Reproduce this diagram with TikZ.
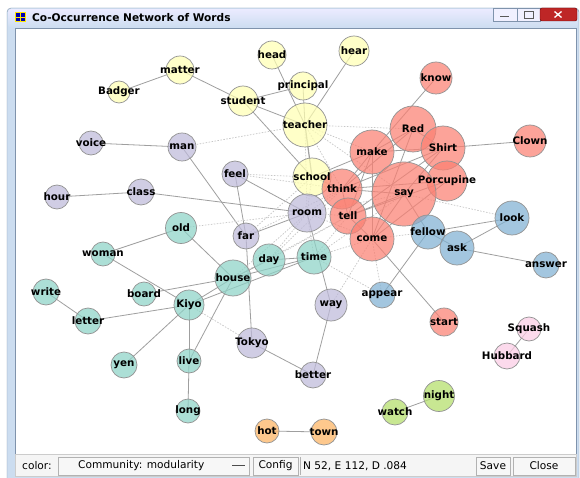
\documentclass[tikz,border=0pt]{standalone}
\usepackage{fontspec}
\setmainfont{DejaVu Sans}
\definecolor{setyel}{HTML}{FFFFB3}
\definecolor{setred}{HTML}{FB8072}
\definecolor{setlav}{HTML}{BEBADA}
\definecolor{setteal}{HTML}{8DD3C7}
\definecolor{setblue}{HTML}{80B1D3}
\definecolor{setorg}{HTML}{FDB462}
\definecolor{setgrn}{HTML}{B3DE69}
\definecolor{setpink}{HTML}{FCCDE5}
\definecolor{winblue}{HTML}{CCDDF0}
\definecolor{winline}{HTML}{7F93AC}
\pgfdeclarelayer{chrome}
\pgfdeclarelayer{edges}
\pgfsetlayers{chrome,edges,main}
\begin{document}
\begin{tikzpicture}[x=1pt, y=-1pt,
  wnode/.style={circle, draw=gray!85, line width=0.7pt, fill opacity=0.72, inner sep=0pt, minimum size=#1},
  ycom/.style={wnode=#1, fill=setyel}, rcom/.style={wnode=#1, fill=setred},
  pcom/.style={wnode=#1, fill=setlav}, tcom/.style={wnode=#1, fill=setteal},
  bcom/.style={wnode=#1, fill=setblue}, ocom/.style={wnode=#1, fill=setorg},
  gcom/.style={wnode=#1, fill=setgrn}, kcom/.style={wnode=#1, fill=setpink},
  wlbl/.style={font=\bfseries\fontsize{10.3}{12}\selectfont, inner sep=0pt},
  edge/.style={draw=gray!75, line width=0.8pt},
  xedge/.style={draw=gray!45, line width=0.7pt, dash pattern=on 1.5pt off 1.5pt},
  btn/.style={draw=gray!60, fill=gray!6},
  bartxt/.style={font=\fontsize{10.6}{12}\selectfont, inner sep=0pt}]
  \useasboundingbox (0,0) rectangle (580,478);
  \begin{pgfonlayer}{chrome}
  % window frame
  \fill[white] (0,0) rectangle (580,478);
  \filldraw[fill=winblue, draw=winline, rounded corners=4pt] (7,8) rectangle (579,484);
  \shade[top color=blue!8, bottom color=winblue, rounded corners=3pt] (8,9) rectangle (578,28);
  \fill[yellow!90!orange] (15,12) rectangle (26,22);
  \foreach \i/\j in {15.8/12.8, 21.2/12.8, 15.8/17.6, 21.2/17.6}
    \fill[blue!70!black] (\i,\j) rectangle ++(4,3.8);
  \filldraw[fill=blue!6, draw=winline] (493,8) rectangle (517,21);
  \filldraw[fill=blue!6, draw=winline] (517,8) rectangle (540,21);
  \filldraw[fill=red!70!black!85, draw=red!40!black, rounded corners=2pt] (540,8) rectangle (577,21);
  \draw[gray!70!black, line width=1.2pt] (500,16.5) -- (509,16.5);
  \draw[gray!70!black, line width=0.8pt] (524,11.5) rectangle (533,18);
  \draw[white, line width=1.3pt] (554.5,11.5) -- (561.5,17.5) (554.5,17.5) -- (561.5,11.5);
  \filldraw[fill=white, draw=winline] (15,28) rectangle (576,454);
  \filldraw[fill=gray!8, draw=gray!40] (15,454) rectangle (576,476.5);
  \filldraw[btn] (58,457) rectangle (249,475);
  \draw[gray!60!black, line width=1pt] (232,465.5) -- (245,465.5);
  \filldraw[btn] (253,457) rectangle (298,475);
  \draw[gray!60] (300,457) -- (300,475);
  \filldraw[btn] (476,457) rectangle (510,475);
  \filldraw[btn] (513,457) rectangle (575,475);
  \end{pgfonlayer}
  \node[font=\bfseries\fontsize{10.6}{12}\selectfont, anchor=west, inner sep=0pt] (title) at (32,17.5) {Co-Occurrence Network of Words};

  % toolbar
  \node[bartxt, anchor=west] (colortxt) at (22,466) {color:};
  \node[bartxt, anchor=west] (commtxt) at (78,466) {Community: modularity};
  \node[bartxt] (config) at (275.5,466) {Config};
  \node[bartxt, anchor=west] (stats) at (303,466) {N 52, E 112, D .084};
  \node[bartxt] (save) at (493,466) {Save};
  \node[bartxt] (close) at (544,466) {Close};

  % nodes
  \node[ycom=28pt] (head) at (272,55) {};
  \node[ycom=30pt] (hear) at (354,51) {};
  \node[ycom=28pt] (matter) at (180,70) {};
  \node[ycom=22pt] (Badger) at (119,92) {};
  \node[ycom=30pt] (student) at (243,101) {};
  \node[ycom=28pt] (principal) at (303,86) {};
  \node[ycom=44pt] (teacher) at (305,125) {};
  \node[ycom=38pt] (school) at (312,177) {};
  \node[rcom=32pt] (know) at (436,78) {};
  \node[rcom=46pt] (Red) at (413,129) {};
  \node[rcom=44pt] (Shirt) at (443,148) {};
  \node[rcom=32pt] (Clown) at (530,141) {};
  \node[rcom=44pt] (make) at (372,152) {};
  \node[rcom=40pt] (Porcupine) at (447,181) {};
  \node[rcom=40pt] (think) at (342,189) {};
  \node[rcom=64pt] (say) at (404,194) {};
  \node[rcom=36pt] (tell) at (348,216) {};
  \node[rcom=44pt] (come) at (372,239) {};
  \node[rcom=28pt] (start) at (444,322) {};
  \node[pcom=24pt] (voice) at (91,143) {};
  \node[pcom=28pt] (man) at (182,147) {};
  \node[pcom=26pt] (feel) at (235,174) {};
  \node[pcom=24pt] (hour) at (57,197) {};
  \node[pcom=26pt] (class) at (141,192) {};
  \node[pcom=38pt] (room) at (307,213) {};
  \node[pcom=26pt] (far) at (246,236) {};
  \node[pcom=32pt] (way) at (331,305) {};
  \node[pcom=30pt] (Tokyo) at (252,343) {};
  \node[pcom=26pt] (better) at (313,375) {};
  \node[tcom=31pt] (old) at (181,228) {};
  \node[tcom=24pt] (woman) at (103,254) {};
  \node[tcom=32pt] (day) at (269,260) {};
  \node[tcom=34pt] (time) at (314,257) {};
  \node[tcom=36pt] (house) at (233,278) {};
  \node[tcom=26pt] (write) at (46,292) {};
  \node[tcom=24pt] (board) at (144,294) {};
  \node[tcom=30pt] (Kiyo) at (189,305) {};
  \node[tcom=26pt] (letter) at (88,321) {};
  \node[tcom=26pt] (yen) at (124,365) {};
  \node[tcom=24pt] (live) at (189,361) {};
  \node[tcom=24pt] (long) at (188,411) {};
  \node[bcom=34pt] (fellow) at (428,232) {};
  \node[bcom=34pt] (look) at (512,218) {};
  \node[bcom=34pt] (ask) at (457,248) {};
  \node[bcom=26pt] (answer) at (546,265) {};
  \node[bcom=26pt] (appear) at (382,295) {};
  \node[ocom=24pt] (hot) at (267,431) {};
  \node[ocom=26pt] (town) at (324,432) {};
  \node[gcom=31pt] (night) at (439,396) {};
  \node[gcom=26pt] (watch) at (395,412) {};
  \node[kcom=24pt] (Squash) at (529,329) {};
  \node[kcom=26pt] (Hubbard) at (507,356) {};

  % word labels on top of every circle
  \foreach \w in {head, hear, matter, Badger, student, principal, teacher, school,
    know, Red, Shirt, Clown, make, Porcupine, think, say, tell, come, start,
    voice, man, feel, hour, class, room, far, way, Tokyo, better,
    old, woman, day, time, house, write, board, Kiyo, letter, yen, live, long,
    fellow, look, ask, answer, appear, hot, town, night, watch, Squash, Hubbard}
    \node[wlbl] (\w-l) at (\w) {\w};

  \begin{pgfonlayer}{edges}
    % edges inside communities
    \draw[edge] (matter.center)--(Badger.center); \draw[edge] (matter.center)--(student.center);
    \draw[edge] (student.center)--(principal.center); \draw[edge] (student.center)--(teacher.center);
    \draw[edge] (student.center)--(school.center); \draw[edge] (head.center)--(teacher.center);
    \draw[edge] (principal.center)--(teacher.center); \draw[edge] (hear.center)--(teacher.center);
    \draw[edge, line width=1.2pt] (teacher.center)--(school.center);
    \draw[edge] (know.center)--(make.center); \draw[edge] (Red.center)--(Shirt.center);
    \draw[edge] (Red.center)--(make.center); \draw[edge] (make.center)--(Shirt.center);
    \draw[edge] (Shirt.center)--(Clown.center); \draw[edge] (Red.center)--(come.center);
    \draw[edge] (make.center)--(come.center); \draw[edge] (make.center)--(think.center);
    \draw[edge] (make.center)--(tell.center); \draw[edge] (Shirt.center)--(think.center);
    \draw[edge] (Shirt.center)--(tell.center); \draw[edge] (Porcupine.center)--(think.center);
    \draw[edge] (Porcupine.center)--(tell.center); \draw[edge] (Porcupine.center)--(come.center);
    \draw[edge] (say.center)--(think.center); \draw[edge] (say.center)--(tell.center);
    \draw[edge] (say.center)--(come.center); \draw[edge] (think.center)--(tell.center);
    \draw[edge] (tell.center)--(come.center); \draw[edge] (come.center)--(start.center);
    \draw[edge] (Shirt.center)--(say.center); \draw[edge] (Red.center)--(think.center);
    \draw[edge] (school.center)--(make.center); \draw[edge] (school.center)--(think.center);
    \draw[edge] (fellow.center)--(appear.center); \draw[edge] (fellow.center)--(look.center);
    \draw[edge] (ask.center)--(look.center); \draw[edge] (ask.center)--(answer.center);
    \draw[edge] (fellow.center)--(ask.center); \draw[edge] (say.center)--(fellow.center);
    \draw[edge] (voice.center)--(man.center); \draw[edge] (man.center)--(far.center);
    \draw[edge] (hour.center)--(class.center); \draw[edge] (class.center)--(room.center);
    \draw[edge] (feel.center)--(far.center); \draw[edge] (feel.center)--(room.center);
    \draw[edge] (far.center)--(room.center); \draw[edge] (far.center)--(Tokyo.center);
    \draw[edge] (Tokyo.center)--(better.center); \draw[edge] (way.center)--(better.center);
    \draw[edge] (room.center)--(way.center);
    \draw[edge] (woman.center)--(old.center); \draw[edge] (woman.center)--(Kiyo.center);
    \draw[edge] (old.center)--(house.center); \draw[edge] (write.center)--(letter.center);
    \draw[edge] (letter.center)--(Kiyo.center); \draw[edge] (board.center)--(house.center);
    \draw[edge] (Kiyo.center)--(house.center); \draw[edge] (Kiyo.center)--(yen.center);
    \draw[edge] (Kiyo.center)--(live.center); \draw[edge] (live.center)--(long.center);
    \draw[edge] (house.center)--(live.center); \draw[edge] (house.center)--(day.center);
    \draw[edge] (house.center)--(time.center); \draw[edge] (day.center)--(time.center);
    \draw[edge] (Kiyo.center)--(time.center);
    \draw[edge] (hot.center)--(town.center); \draw[edge] (night.center)--(watch.center);
    \draw[edge] (Squash.center)--(Hubbard.center);
    % edges between communities
    \draw[xedge] (man.center)--(teacher.center); \draw[xedge] (teacher.center)--(Red.center);
    \draw[xedge] (teacher.center)--(make.center); \draw[xedge] (teacher.center)--(think.center);
    \draw[xedge] (teacher.center)--(say.center); \draw[xedge] (teacher.center)--(room.center);
    \draw[xedge] (feel.center)--(school.center); \draw[xedge] (feel.center)--(think.center);
    \draw[xedge] (school.center)--(room.center); \draw[xedge] (room.center)--(think.center);
    \draw[xedge] (room.center)--(tell.center); \draw[xedge] (room.center)--(come.center);
    \draw[xedge] (room.center)--(say.center); \draw[xedge] (day.center)--(room.center);
    \draw[xedge] (day.center)--(tell.center); \draw[xedge] (time.center)--(tell.center);
    \draw[xedge] (time.center)--(come.center); \draw[xedge] (time.center)--(room.center);
    \draw[xedge] (far.center)--(school.center); \draw[xedge] (far.center)--(think.center);
    \draw[xedge] (house.center)--(room.center); \draw[xedge] (house.center)--(tell.center);
    \draw[xedge] (old.center)--(room.center); \draw[xedge] (way.center)--(come.center);
    \draw[xedge] (appear.center)--(come.center); \draw[xedge] (appear.center)--(time.center);
    \draw[xedge] (Kiyo.center)--(Tokyo.center); \draw[xedge] (say.center)--(look.center);
    \draw[xedge] (come.center)--(fellow.center); \draw[xedge] (day.center)--(think.center);
    \draw[xedge] (time.center)--(say.center);
  \end{pgfonlayer}
\end{tikzpicture}
\end{document}
